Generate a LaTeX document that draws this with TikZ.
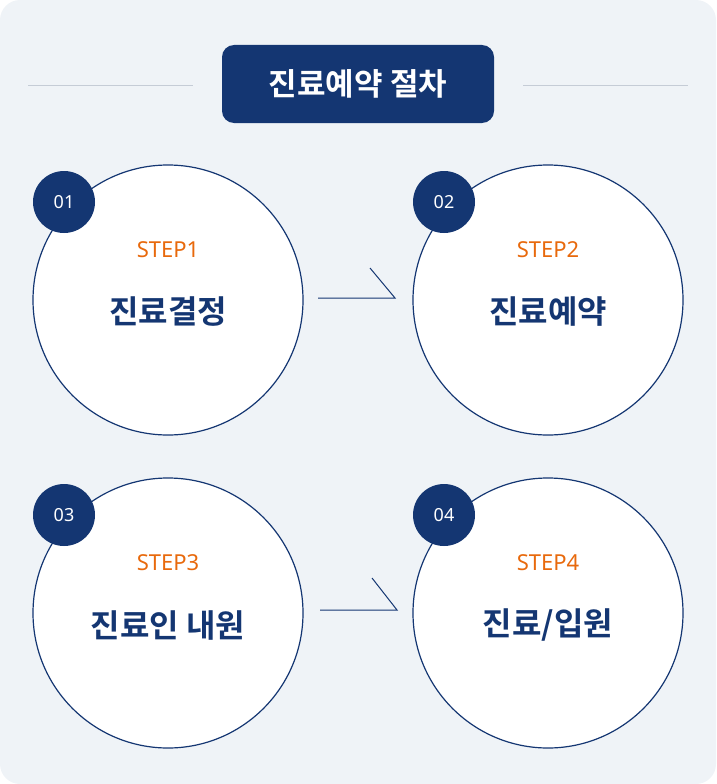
\documentclass[tikz,border=0pt]{standalone}
\usepackage{fontspec}
\newfontfamily\krfont{Noto Sans CJK KR Bold}
\newfontfamily\latfont{Noto Sans}
\definecolor{navy}{HTML}{143672}
\definecolor{bgcol}{HTML}{EFF3F7}
\definecolor{stepor}{HTML}{E8690C}
\definecolor{rulecol}{HTML}{C5CCD6}
\tikzset{
  stepcircle/.style={circle, draw=navy, line width=1.2pt, fill=white, minimum size=270pt, inner sep=0pt},
  badge/.style={circle, fill=navy, text=white, minimum size=62pt, inner sep=0pt, font=\latfont\fontsize{18}{18}\selectfont},
  steplabel/.style={text=stepor, font=\latfont\bfseries\fontsize{22}{22}\selectfont},
  stepname/.style={text=navy, font=\krfont\fontsize{32}{32}\selectfont},
  flow/.style={draw=navy, line width=1pt}
}
\begin{document}
\begin{tikzpicture}[x=1pt, y=-1pt]
  \fill[bgcol, rounded corners=20pt] (0,0) rectangle (716,784);
  \useasboundingbox (0,0) rectangle (716,784);
  % title
  \node (title) at (358,84) [fill=navy, rounded corners=12pt, minimum width=272pt, minimum height=78pt, text=white, font=\krfont\fontsize{31}{31}\selectfont] {진료예약 절차};
  \coordinate (l1) at (28,85);
  \coordinate (l2) at (193,85);
  \coordinate (r1) at (523,85);
  \coordinate (r2) at (688,85);
  \draw[rulecol, line width=1pt] (l1) -- (l2);
  \draw[rulecol, line width=1pt] (r1) -- (r2);
  % steps
  \foreach \n/\x/\y/\name in {1/168/300/{진료결정}, 2/548/300/{진료예약}, 3/168/613/{진료인 내원}, 4/548/613/{진료/입원}}{
    \node (c\n) at (\x,\y) [stepcircle] {};
    \node (s\n) at (\x,\y-50) [steplabel] {STEP\n};
    \node (t\n) at (\x,\y+12) [stepname] {\name};
    \node (b\n) at (\x-104,\y-98) [badge] {0\n};
  }
  % arrows
  \coordinate (a1) at (318,298);
  \coordinate (a2) at (395,298);
  \coordinate (a3) at (370,268);
  \draw[flow] (a1) -- (a2) -- (a3);
  \coordinate (a4) at (320,610);
  \coordinate (a5) at (397,610);
  \coordinate (a6) at (372,578);
  \draw[flow] (a4) -- (a5) -- (a6);
\end{tikzpicture}
\end{document}
